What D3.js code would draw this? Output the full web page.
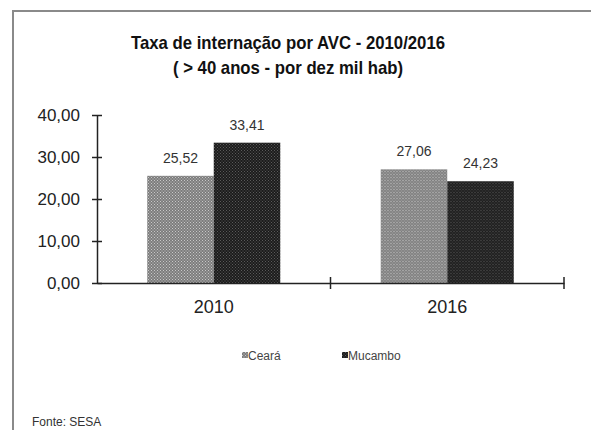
<!DOCTYPE html>
<html>
<head>
<meta charset="utf-8">
<script src="https://cdn.jsdelivr.net/npm/d3@7"></script>
<style>
  html, body { margin: 0; padding: 0; background: #fff; }
  svg { display: block; }
  text { font-family: "Liberation Sans", Arial, sans-serif; }
</style>
</head>
<body>
<svg id="chart" width="591" height="430"></svg>
<script>
const categories = ["2010", "2016"];
const seriesNames = ["Ceará", "Mucambo"];
const ceara = [25.52, 27.06];
const mucambo = [33.41, 24.23];
const yTicks = [0, 10, 20, 30, 40];
const titleLines = ["Taxa de internação por AVC - 2010/2016", "( > 40 anos - por dez mil hab)"];
const sourceText = "Fonte: SESA";

const seriesValues = [ceara, mucambo];

const svg = d3.select("#chart");

const defs = svg.append("defs");
function dotPattern(id, bg, dot) {
  const p = defs.append("pattern").attr("id", id).attr("patternUnits", "userSpaceOnUse")
    .attr("width", 3).attr("height", 3);
  p.append("rect").attr("width", 3).attr("height", 3).attr("fill", bg);
  p.append("rect").attr("x", 0).attr("y", 0).attr("width", 1).attr("height", 1).attr("fill", dot);
  p.append("rect").attr("x", 1.5).attr("y", 1.5).attr("width", 1).attr("height", 1).attr("fill", dot);
}
dotPattern("patCeara", "#7d7d7d", "#c8c8c8");
dotPattern("patMuc", "#1c1c1c", "#5a5a5a");
const fills = ["url(#patCeara)", "url(#patMuc)"];

// frame
svg.append("rect").attr("x", 13).attr("y", 11).attr("width", 700).attr("height", 500)
  .attr("fill", "none").attr("stroke", "#8a8a8a").attr("stroke-width", 2);

const x = d3.scaleBand().domain(categories).range([97, 564]).paddingInner(0).paddingOuter(0);
const xs = d3.scaleBand().domain(seriesNames).range([0, x.bandwidth()]).paddingInner(0).paddingOuter(0.755);
const y = d3.scaleLinear().domain([0, 40]).range([283, 115]);

// title (slightly condensed like the original narrow bold face)
svg.append("g").attr("transform", "translate(288,0) scale(0.93,1)")
  .selectAll("text").data(titleLines).join("text")
  .attr("x", 0).attr("y", (d, i) => 49 + i * 25)
  .attr("text-anchor", "middle").attr("font-size", 18).attr("font-weight", "bold")
  .attr("fill", "#111").text(d => d);

// bars
const groups = svg.append("g").selectAll("g").data(categories).join("g")
  .attr("transform", d => `translate(${x(d)},0)`);
groups.selectAll("rect").data((d, i) => seriesNames.map((s, j) => ({ s, j, v: seriesValues[j][i] })))
  .join("rect")
  .attr("x", d => xs(d.s)).attr("width", xs.bandwidth())
  .attr("y", d => y(d.v)).attr("height", d => y(0) - y(d.v))
  .attr("fill", d => fills[d.j]);
groups.selectAll("text.val").data((d, i) => seriesNames.map((s, j) => ({ s, j, v: seriesValues[j][i] })))
  .join("text").attr("class", "val")
  .attr("x", d => xs(d.s) + xs.bandwidth() / 2).attr("y", d => y(d.v) - 13)
  .attr("text-anchor", "middle").attr("font-size", 14).attr("fill", "#333")
  .text(d => d3.format(".2f")(d.v).replace(".", ","));

// y axis
const yAxis = d3.axisLeft(y).tickValues(yTicks).tickSize(0)
  .tickFormat(d => d3.format(".2f")(d).replace(".", ","));
const gy = svg.append("g").attr("transform", "translate(97,0)").call(yAxis);
gy.select(".domain").attr("stroke", "#222").attr("stroke-width", 1.5);
gy.selectAll(".tick line").attr("x1", -5).attr("x2", 5).attr("stroke", "#222").attr("stroke-width", 1.5);
gy.selectAll(".tick text").attr("x", -17).attr("font-size", 17).attr("fill", "#222")
  .attr("font-family", "Liberation Sans, Arial, sans-serif");

// x axis
const xAxis = d3.axisBottom(x).tickSize(0);
const gx = svg.append("g").attr("transform", "translate(0,283)").call(xAxis);
gx.select(".domain").attr("stroke", "#222").attr("stroke-width", 1.5);
gx.selectAll(".tick text").attr("y", 30).attr("dy", 0).attr("font-size", 18).attr("fill", "#222")
  .attr("font-family", "Liberation Sans, Arial, sans-serif");
const bounds = categories.map(c => x(c) + x.bandwidth());
gx.append("g").selectAll("line").data(bounds).join("line")
  .attr("x1", d => d).attr("x2", d => d).attr("y1", -6).attr("y2", 6)
  .attr("stroke", "#222").attr("stroke-width", 1.5);

// legend
const legendX = [242, 342];
const lg = svg.append("g").selectAll("g").data(seriesNames).join("g")
  .attr("transform", (d, i) => `translate(${legendX[i]},355)`);
lg.append("rect").attr("x", 0).attr("y", -3).attr("width", 6).attr("height", 6)
  .attr("fill", (d, i) => fills[i]);
lg.append("text").attr("x", 6).attr("y", 4.5).attr("font-size", 12).attr("fill", "#444")
  .text(d => d);

// source
svg.append("text").attr("x", 32).attr("y", 426).attr("font-size", 12).attr("fill", "#333")
  .text(sourceText);
</script>
</body>
</html>
